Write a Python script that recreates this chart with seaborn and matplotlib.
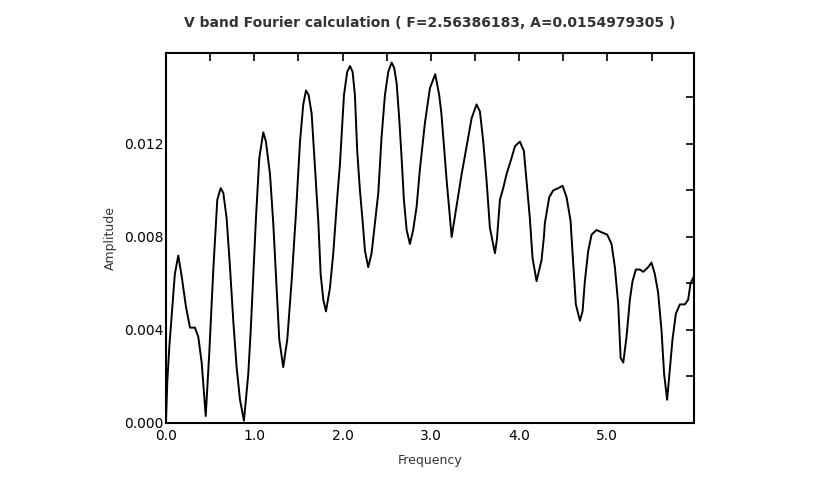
import pandas as pd
import matplotlib
matplotlib.use("Agg")
import matplotlib.pyplot as plt
import seaborn as sns
from matplotlib.ticker import MultipleLocator, FormatStrFormatter

# Fourier amplitude spectrum
freq = [0.000, 0.015, 0.038, 0.064, 0.100, 0.139, 0.178, 0.226, 0.272, 0.328,
        0.366, 0.404, 0.450, 0.490, 0.536, 0.581, 0.619, 0.649, 0.687, 0.725,
        0.762, 0.800, 0.838, 0.883, 0.932, 0.960, 0.989, 1.019, 1.057, 1.102,
        1.132, 1.178, 1.215, 1.253, 1.283, 1.328, 1.374, 1.423, 1.472, 1.518,
        1.555, 1.586, 1.616, 1.650, 1.687, 1.725, 1.752, 1.782, 1.812, 1.857,
        1.895, 1.940, 1.970, 2.016, 2.053, 2.084, 2.114, 2.140, 2.166, 2.197,
        2.227, 2.254, 2.291, 2.329, 2.367, 2.405, 2.442, 2.480, 2.518, 2.556,
        2.585, 2.613, 2.642, 2.669, 2.695, 2.726, 2.763, 2.800, 2.839, 2.876,
        2.933, 2.990, 3.050, 3.095, 3.120, 3.180, 3.236, 3.290, 3.349, 3.405,
        3.462, 3.518, 3.556, 3.594, 3.632, 3.669, 3.726, 3.749, 3.783, 3.820,
        3.858, 3.915, 3.953, 4.009, 4.054, 4.085, 4.122, 4.152, 4.198, 4.254,
        4.281, 4.292, 4.341, 4.386, 4.443, 4.493, 4.538, 4.583, 4.594, 4.613,
        4.643, 4.689, 4.719, 4.745, 4.783, 4.821, 4.877, 4.934, 4.998, 5.047,
        5.085, 5.123, 5.150, 5.180, 5.217, 5.255, 5.285, 5.323, 5.368, 5.406,
        5.462, 5.500, 5.538, 5.575, 5.613, 5.643, 5.677, 5.708, 5.738, 5.776,
        5.821, 5.878, 5.915, 5.942, 5.980]
amp = [0.0001, 0.0018, 0.0033, 0.0046, 0.0064, 0.0072, 0.0063, 0.0050, 0.0041, 0.0041,
       0.0037, 0.0026, 0.0003, 0.0030, 0.0066, 0.0096, 0.0101, 0.0099, 0.0088, 0.0067,
       0.0044, 0.0024, 0.0010, 0.0001, 0.0021, 0.0040, 0.0064, 0.0088, 0.0114, 0.0125,
       0.0121, 0.0107, 0.0086, 0.0058, 0.0036, 0.0024, 0.0036, 0.0061, 0.0090, 0.0121,
       0.0137, 0.0143, 0.0141, 0.0133, 0.0110, 0.0087, 0.0064, 0.0053, 0.0048, 0.0058,
       0.0073, 0.0097, 0.0111, 0.0141, 0.0151, 0.01535, 0.0151, 0.0141, 0.0117, 0.0100,
       0.0087, 0.0074, 0.0067, 0.0073, 0.0086, 0.0099, 0.0123, 0.0141, 0.0151, 0.0155,
       0.01527, 0.0146, 0.0131, 0.0114, 0.0096, 0.0083, 0.0077, 0.0083, 0.0093, 0.0109,
       0.0129, 0.0144, 0.0150, 0.0141, 0.0133, 0.0104, 0.0080, 0.0093, 0.0107, 0.0119,
       0.0131, 0.0137, 0.0134, 0.0121, 0.0104, 0.0084, 0.0073, 0.0079, 0.0096, 0.0101,
       0.0107, 0.0114, 0.0119, 0.0121, 0.0117, 0.0104, 0.0088, 0.0071, 0.0061, 0.0070,
       0.0080, 0.0086, 0.0097, 0.0100, 0.0101, 0.0102, 0.0097, 0.0087, 0.0080, 0.0069,
       0.0051, 0.0044, 0.0048, 0.0061, 0.0074, 0.0081, 0.0083, 0.0082, 0.0081, 0.0077,
       0.0067, 0.0051, 0.0028, 0.0026, 0.0037, 0.0053, 0.0061, 0.0066, 0.0066, 0.0065,
       0.0067, 0.0069, 0.0064, 0.0056, 0.0040, 0.0021, 0.0010, 0.0023, 0.0036, 0.0047,
       0.0051, 0.0051, 0.0053, 0.0060, 0.0063]

df = pd.DataFrame({"Frequency": freq, "Amplitude": amp})

sns.set_style("white")
plt.rcParams["font.family"] = ["DejaVu Sans"]

fig = plt.figure(figsize=(8.3, 4.93), dpi=100)
ax = fig.add_axes([0.2, 0.142, 0.636, 0.75])

sns.lineplot(data=df, x="Frequency", y="Amplitude", ax=ax, color="black",
             linewidth=1.4, estimator=None, sort=False)

ax.set_xlim(0, 5.98)
ax.set_ylim(0, 0.0159)
ax.xaxis.set_major_locator(MultipleLocator(1.0))
ax.xaxis.set_minor_locator(MultipleLocator(0.5))
ax.yaxis.set_major_locator(MultipleLocator(0.004))
ax.yaxis.set_minor_locator(MultipleLocator(0.002))
ax.xaxis.set_major_formatter(FormatStrFormatter("%.1f"))
ax.yaxis.set_major_formatter(FormatStrFormatter("%.3f"))

ax.tick_params(which="both", direction="in", top=True, right=True,
               length=6, width=1.2, color="black", labelsize=10, labelcolor="black")
ax.tick_params(axis="x", pad=4)
ax.tick_params(axis="y", pad=2)

for s in ax.spines.values():
    s.set_linewidth(1.5)
    s.set_color("black")

ax.set_xlabel("Frequency", fontsize=9, color="#333333", labelpad=8)
ax.set_ylabel("Amplitude", fontsize=9, color="#333333", labelpad=5)
ax.set_title("V band Fourier calculation ( F=2.56386183, A=0.0154979305 )",
             fontsize=10, fontweight="bold", color="#333333", pad=19)

fig.savefig("out.png", dpi=100)
